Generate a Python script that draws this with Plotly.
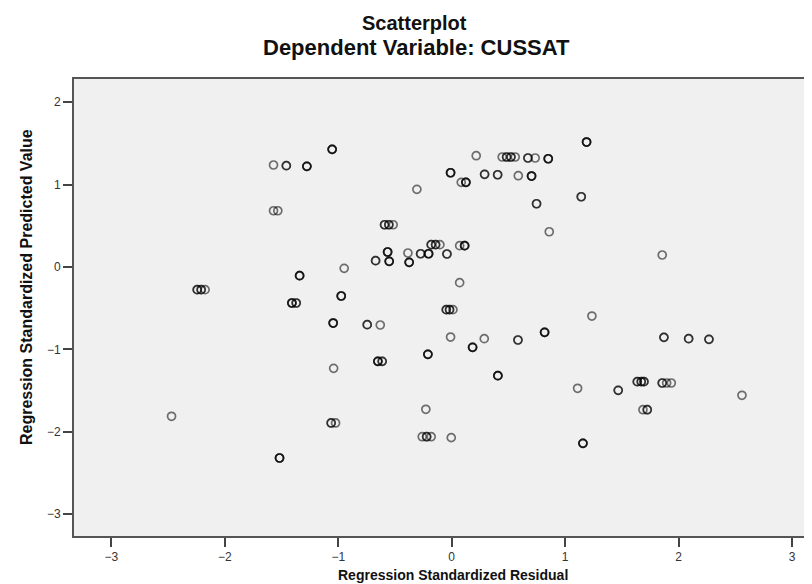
import plotly.graph_objects as go

# Regression standardized residual (x) and predicted value (y); overlap = number of coincident cases
residual = [
    -1.054, -1.571, -1.458, -1.277, -0.307, -1.571, -1.533,
    -0.592, -0.554, -0.516, -0.181, -0.142, -0.104,
    -0.565, -0.386, -0.274, -0.204, -0.042, -0.671, -0.551, -0.375,
    -0.948, -1.341, -2.244, -2.209, -2.174, -0.974, -1.409, -1.371,
    1.189, 0.216, 0.445, 0.484, 0.522, 0.560, 0.672, 0.736, 0.851,
    -0.010, 0.084, 0.125, 0.290, 0.405, 0.587, 0.704, 0.748, 1.142,
    0.860, 1.856, 0.070, 0.114, 0.070,
    -1.045, -0.745, -0.630, -0.651, -0.613, -0.210, -1.041, -0.228,
    -2.470, -1.063, -1.024, -0.260, -0.221, -0.181,
    -0.048, -0.019, 0.011, 1.236, -0.010, 0.287, 0.184, 0.584, 0.819,
    0.407, 1.871, 2.089, 2.268, 1.110, 1.468, 1.636, 1.671, 1.695,
    1.856, 1.895, 1.936, 2.559, 1.686, 1.724, -0.004, 1.157, -1.518,
]
predicted = [
    1.428, 1.238, 1.230, 1.222, 0.943, 0.683, 0.683,
    0.513, 0.513, 0.513, 0.271, 0.271, 0.271,
    0.182, 0.170, 0.161, 0.161, 0.158, 0.077, 0.069, 0.057,
    -0.016, -0.105, -0.275, -0.275, -0.275, -0.352, -0.437, -0.437,
    1.517, 1.351, 1.335, 1.335, 1.335, 1.335, 1.323, 1.323, 1.314,
    1.144, 1.028, 1.028, 1.125, 1.120, 1.108, 1.104, 0.768, 0.853,
    0.428, 0.146, 0.259, 0.259, -0.190,
    -0.680, -0.700, -0.704, -1.145, -1.145, -1.060, -1.230, -1.727,
    -1.812, -1.893, -1.893, -2.060, -2.060, -2.060,
    -0.518, -0.518, -0.518, -0.595, -0.850, -0.870, -0.975, -0.886, -0.793,
    -1.319, -0.854, -0.870, -0.878, -1.472, -1.497, -1.392, -1.392, -1.392,
    -1.408, -1.408, -1.408, -1.557, -1.732, -1.732, -2.071, -2.140, -2.318,
]
overlap = [
    3, 1, 2, 3, 1, 1, 1,
    2, 2, 1, 2, 2, 1,
    3, 1, 2, 3, 2, 2, 3, 3,
    1, 3, 2, 2, 1, 3, 3, 2,
    3, 1, 1, 2, 2, 1, 2, 1, 3,
    3, 1, 3, 2, 2, 1, 3, 2, 2,
    1, 1, 1, 3, 1,
    3, 2, 1, 3, 2, 3, 1, 1,
    1, 2, 1, 1, 2, 1,
    2, 2, 1, 1, 1, 1, 3, 2, 3,
    3, 2, 2, 2, 1, 2, 2, 2, 2,
    2, 1, 1, 1, 1, 2, 1, 3, 3,
]
tick_values = [-3, -2, -1, 0, 1, 2, 3]

xs, ys = [], []
for x, y, n in zip(residual, predicted, overlap):
    xs.extend([x] * n)
    ys.extend([y] * n)

FONT = "Liberation Sans, Arial, sans-serif"

W, H = 812, 584
L, R, T, B = 66, 0, 71, 56
PW, PH = W - L - R, H - T - B


def px(xp):
    return (xp - L) / PW


def py(yp):
    return (H - B - yp) / PH


fig = go.Figure(go.Scatter(
    x=xs, y=ys, mode="markers",
    marker=dict(symbol="circle-open", size=8, color="rgba(0,0,0,0.55)",
                line=dict(width=1.7)),
    hoverinfo="x+y",
))

axis_common = dict(
    showgrid=False, zeroline=False, ticks="outside", ticklen=9, tickwidth=1.5,
    tickcolor="#444", linecolor="#555", linewidth=2, showline=True,
    tickfont=dict(family=FONT, size=12, color="#333"), tickvals=tick_values,
)

fig.update_layout(
    width=W, height=H,
    margin=dict(l=L, r=R, t=T, b=B),
    paper_bgcolor="white", plot_bgcolor="#F0F0F0",
    showlegend=False,
    xaxis=dict(range=[-3.33, 3.247], mirror=True, **axis_common),
    yaxis=dict(range=[-3.265, 2.282], **axis_common),
    annotations=[
        dict(text="<b>Scatterplot</b>", x=px(406), y=py(15),
             font=dict(family=FONT, size=20, color="#111")),
        dict(text="<b>Dependent Variable: CUSSAT</b>", x=px(408), y=py(40),
             font=dict(family=FONT, size=22, color="#111")),
        dict(text="<b>Regression Standardized Residual</b>", x=px(445), y=py(567),
             font=dict(family=FONT, size=14, color="#111")),
        dict(text="<b>Regression Standardized Predicted Value</b>", x=px(18), y=py(279),
             textangle=-90, font=dict(family=FONT, size=16, color="#111")),
    ],
)
fig.update_annotations(xref="paper", yref="paper", showarrow=False,
                       xanchor="center", yanchor="middle")

fig.write_html("out.html")
